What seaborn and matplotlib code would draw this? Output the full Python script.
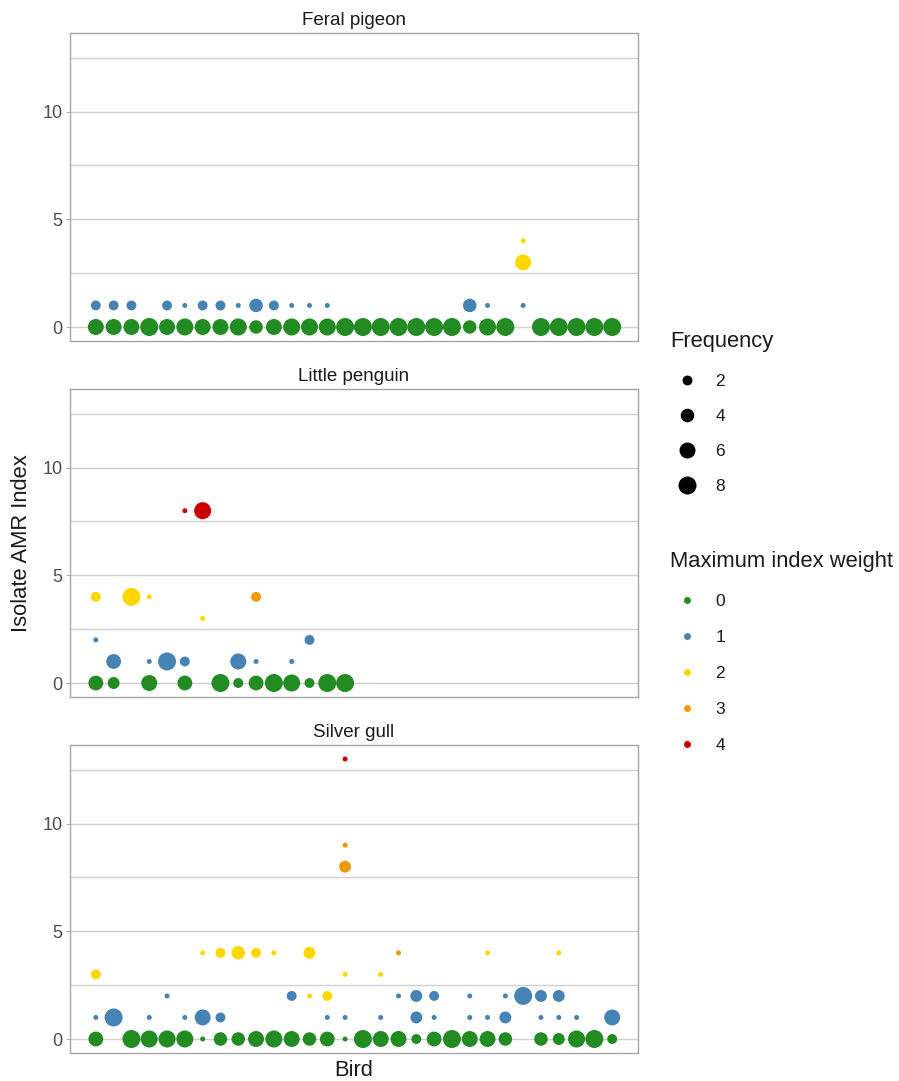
import numpy as np
import pandas as pd
import matplotlib
matplotlib.use("Agg")
import matplotlib.pyplot as plt
import seaborn as sns
from matplotlib.lines import Line2D

# ---------------- data ----------------
species = ["Feral pigeon", "Little penguin", "Silver gull"]

pigeon_bird = [1, 1, 2, 2, 3, 3, 4, 5, 5, 6, 6, 7, 7, 8, 8, 9, 9, 10, 10, 11, 11,
               12, 12, 13, 13, 14, 14, 15, 16, 17, 18, 19, 20, 21, 22, 22, 23, 23,
               24, 25, 25, 25, 26, 27, 28, 29, 30]
pigeon_amr = [0, 1, 0, 1, 0, 1, 0, 0, 1, 0, 1, 0, 1, 0, 1, 0, 1, 0, 1, 0, 1,
              0, 1, 0, 1, 0, 1, 0, 0, 0, 0, 0, 0, 0, 0, 1, 0, 1,
              0, 1, 3, 4, 0, 0, 0, 0, 0]
pigeon_freq = [6, 2, 6, 2, 6, 2, 8, 6, 2, 7, 1, 6, 2, 6, 2, 7, 1, 4, 4, 6, 2,
               7, 1, 7, 1, 7, 1, 8, 8, 8, 8, 8, 8, 8, 4, 4, 7, 1,
               8, 1, 6, 1, 8, 8, 8, 8, 8]
pigeon_weight = [0, 1, 0, 1, 0, 1, 0, 0, 1, 0, 1, 0, 1, 0, 1, 0, 1, 0, 1, 0, 1,
                 0, 1, 0, 1, 0, 1, 0, 0, 0, 0, 0, 0, 0, 0, 1, 0, 1,
                 0, 1, 2, 2, 0, 0, 0, 0, 0]

penguin_bird = [1, 1, 1, 2, 2, 3, 4, 4, 4, 5, 6, 6, 6, 7, 7, 8, 9, 9,
                10, 10, 10, 11, 12, 12, 13, 13, 14, 15]
penguin_amr = [0, 2, 4, 0, 1, 4, 0, 1, 4, 1, 0, 1, 8, 3, 8, 0, 0, 1,
               0, 1, 4, 0, 0, 1, 0, 2, 0, 0]
penguin_freq = [5, 1, 2, 3, 5, 8, 6, 1, 1, 8, 5, 2, 1, 1, 7, 8, 2, 6,
                5, 1, 2, 8, 7, 1, 2, 2, 8, 8]
penguin_weight = [0, 1, 2, 0, 1, 2, 0, 1, 2, 1, 0, 1, 4, 2, 4, 0, 0, 1,
                  0, 1, 3, 0, 0, 1, 0, 1, 0, 0]

gull_bird = [1, 1, 1, 2, 3, 4, 4, 5, 5, 6, 6, 7, 7, 7, 8, 8, 8, 9, 9, 10, 10,
             11, 11, 12, 12, 13, 13, 13, 14, 14, 14, 15, 15, 15, 15, 15, 15, 16,
             17, 17, 17, 18, 18, 18, 19, 19, 19, 20, 20, 20, 21, 22, 22, 22,
             23, 23, 23, 24, 24, 24, 25, 26, 26, 26, 27, 27, 27, 27, 28, 28,
             29, 30, 30]
gull_amr = [0, 1, 3, 1, 0, 0, 1, 0, 2, 0, 1, 0, 1, 4, 0, 1, 4, 0, 4, 0, 4,
            0, 4, 0, 2, 0, 2, 4, 0, 1, 2, 0, 1, 3, 8, 9, 13, 0,
            0, 1, 3, 0, 2, 4, 0, 1, 2, 0, 1, 2, 0, 0, 1, 2,
            0, 1, 4, 0, 1, 2, 2, 0, 1, 2, 0, 1, 2, 4, 0, 1,
            0, 0, 1]
gull_freq = [5, 1, 2, 8, 8, 7, 1, 7, 1, 7, 1, 1, 6, 1, 4, 2, 2, 4, 4, 6, 2,
             7, 1, 6, 2, 4, 1, 3, 5, 1, 2, 1, 1, 1, 3, 1, 1, 8,
             6, 1, 1, 6, 1, 1, 2, 3, 3, 5, 1, 2, 8, 6, 1, 1,
             6, 1, 1, 4, 3, 1, 8, 4, 1, 3, 3, 1, 3, 1, 7, 1,
             8, 2, 6]
gull_weight = [0, 1, 2, 1, 0, 0, 1, 0, 1, 0, 1, 0, 1, 2, 0, 1, 2, 0, 2, 0, 2,
               0, 2, 0, 1, 0, 2, 2, 0, 1, 2, 0, 1, 2, 3, 3, 4, 0,
               0, 1, 2, 0, 1, 3, 0, 1, 1, 0, 1, 1, 0, 0, 1, 1,
               0, 1, 2, 0, 1, 1, 1, 0, 1, 1, 0, 1, 1, 2, 0, 1,
               0, 0, 1]

weight_levels = ["0", "1", "2", "3", "4"]
weight_colors = ["#228B22", "#4682B4", "#FFD700", "#EE9A00", "#CD0000"]
freq_levels = [1, 2, 3, 4, 5, 6, 7, 8]
freq_legend = [2, 4, 6, 8]
y_major = [0, 5, 10]
y_minor = [2.5, 7.5, 12.5]

# ---------------- build frame ----------------
frames = []
for name, b, a, f, w in [
    (species[0], pigeon_bird, pigeon_amr, pigeon_freq, pigeon_weight),
    (species[1], penguin_bird, penguin_amr, penguin_freq, penguin_weight),
    (species[2], gull_bird, gull_amr, gull_freq, gull_weight),
]:
    frames.append(pd.DataFrame({"species": name, "bird": b, "amr": a,
                                "freq": f, "weight": [str(v) for v in w]}))
df = pd.concat(frames, ignore_index=True)

# ---------------- style ----------------
sns.set_theme(style="white")
plt.rcParams['font.family'] = ['Liberation Sans', 'DejaVu Sans']

W, H = 899, 1081
fig = plt.figure(figsize=(W / 100, H / 100), dpi=100)

palette = dict(zip(weight_levels, weight_colors))


def diam_px(f):
    # ggplot-like area scale: size = 1 + 5*sqrt(rescaled)
    return 2.6 * (1 + 5 * np.sqrt((f - 1) / 7)) + 2.4


sizes = {f: (diam_px(f) * 0.72) ** 2 for f in freq_levels}

panel_px = [(33, 341), (389, 697), (745, 1053)]
left_px, right_px = 70, 638
xmin = min(df["bird"]) - 0.05 * (max(df["bird"]) - min(df["bird"]))
xmax = max(df["bird"]) + 0.05 * (max(df["bird"]) - min(df["bird"]))
ymin = -0.05 * max(df["amr"])
ymax = max(df["amr"]) * 1.05

tick_col = "#4d4d4d"
for name, (top, bot) in zip(species, panel_px):
    ax = fig.add_axes([left_px / W, 1 - bot / H, (right_px - left_px) / W, (bot - top) / H])
    sub = df[df["species"] == name]
    ax.set_axisbelow(True)
    sns.scatterplot(data=sub, x="bird", y="amr", hue="weight", size="freq",
                    palette=palette, hue_order=weight_levels, sizes=sizes,
                    linewidth=0, edgecolor="none", alpha=1, legend=False, ax=ax,
                    zorder=3)
    ax.set_xlim(xmin, xmax)
    ax.set_ylim(ymin, ymax)
    ax.set_yticks(y_major)
    ax.set_yticks(y_minor, minor=True)
    ax.set_xticks([])
    ax.grid(False)
    for yv in y_major + y_minor:
        ax.axhline(yv, color="#d0d0d0", lw=1.0, zorder=0)
    ax.tick_params(axis="y", which="major", left=True, length=3, width=0.8,
                   color="#b0b0b0", labelsize=13, labelcolor=tick_col, pad=2.5)
    ax.tick_params(axis="y", which="minor", left=False)
    ax.set_xlabel("")
    ax.set_ylabel("")
    for s in ax.spines.values():
        s.set_color("#a6a6a6")
        s.set_linewidth(1.0)
    ax.set_title(name, fontsize=13.5, color="#1a1a1a", pad=6.0)

fig.text(22 / W, 1 - 543 / H, "Isolate AMR Index", rotation=90, ha="center",
         va="center", fontsize=15.8, color="#1a1a1a")
fig.text(354 / W, 1 - 1070 / H, "Bird", ha="center", va="center",
         fontsize=15.8, color="#1a1a1a")

# ---------------- legends ----------------
fig.text(670 / W, 1 - 342 / H, "Frequency", ha="left", va="center",
         fontsize=15.8, color="#1a1a1a")
size_handles = [Line2D([], [], marker="o", ls="", color="black",
                       markeredgewidth=0, markersize=diam_px(f) * 0.72)
                for f in freq_legend]
leg1 = fig.legend(size_handles, [str(f) for f in freq_legend],
                  loc="upper left", bbox_to_anchor=(670 / W, 1 - 374 / H),
                  frameon=False, fontsize=12.5, handlelength=2.0,
                  handletextpad=0.6, labelspacing=1.14, borderpad=0,
                  borderaxespad=0)
for t in leg1.get_texts():
    t.set_color("#1a1a1a")

fig.text(670 / W, 1 - 561 / H, "Maximum index weight", ha="left", va="center",
         fontsize=15.8, color="#1a1a1a")
col_handles = [Line2D([], [], marker="o", ls="", color=c, markeredgewidth=0,
                      markersize=5.0) for c in weight_colors]
leg2 = fig.legend(col_handles, weight_levels,
                  loc="upper left", bbox_to_anchor=(670 / W, 1 - 594 / H),
                  frameon=False, fontsize=12.5, handlelength=2.0,
                  handletextpad=0.6, labelspacing=1.2, borderpad=0,
                  borderaxespad=0)
for t in leg2.get_texts():
    t.set_color("#1a1a1a")

fig.savefig("out.png", dpi=100)
